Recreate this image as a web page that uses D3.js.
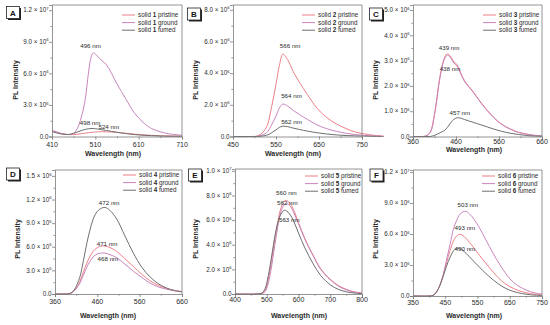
<!DOCTYPE html>
<html><head><meta charset="utf-8">
<script src="https://cdn.jsdelivr.net/npm/d3@7"></script>
<style>
body{margin:0;background:#fff}
svg{display:block}
text{font-family:"Liberation Sans",Arial,sans-serif;fill:#2a2a2a}
</style>
</head><body>
<svg id="chart" width="550" height="325"></svg>
<script>
// ---------------- DATA (intensities in units of 10^6) ----------------
const panelLetters = ["A","B","C","D","E","F"];
const solidNumbers = ["1","2","3","4","5","6"];
const stateNames = ["pristine","ground","fumed"];

// Panel A
const wavelengthA = [410,420,430,440,450,460,470,480,487,494,500,505,510,520,536,560,580,600,620,640,660,680,710];
const pristineA   = [0.55,0.42,0.30,0.22,0.18,0.18,0.22,0.28,0.32,0.36,0.39,0.41,0.43,0.45,0.45,0.39,0.31,0.23,0.16,0.11,0.07,0.05,0.03];
const groundA     = [0.60,0.45,0.30,0.20,0.20,0.30,0.90,2.20,3.60,6.00,7.50,7.95,7.85,7.40,6.80,5.00,3.60,2.25,1.35,0.75,0.45,0.25,0.12];
const fumedA      = [0.45,0.35,0.25,0.20,0.20,0.30,0.45,0.60,0.68,0.73,0.76,0.76,0.74,0.68,0.57,0.40,0.28,0.18,0.12,0.08,0.05,0.03,0.02];
const xTicksA = [410,510,610,710];
const yTicksA = [0,3,6,9,12];
const yTickLabelsA = ["0.0","3.0 × 10^6","6.0 × 10^6","9.0 × 10^6","1.2 × 10^7"];
const peakTextA = ["496 nm","498 nm","524 nm"];
const peakAtWlA = [499,498,541];
const peakAtValA = [8.6,1.25,0.86];

// Panel B
const wavelengthB = [450,490,505,515,525,531,540,550,558,566,577,590,605,623,645,667,690,713,735,756,780,800];
const pristineB   = [0,0,0.02,0.15,0.45,0.80,1.90,3.30,4.50,5.20,4.85,4.10,3.40,2.65,1.80,1.22,0.80,0.50,0.28,0.16,0.07,0.03];
const groundB     = [0,0,0.01,0.06,0.18,0.32,0.75,1.30,1.80,2.05,1.92,1.65,1.38,1.08,0.74,0.50,0.33,0.20,0.12,0.07,0.03,0.01];
const fumedB      = [0,0,0,0.02,0.06,0.10,0.24,0.42,0.58,0.65,0.62,0.53,0.44,0.34,0.24,0.16,0.10,0.06,0.04,0.02,0.01,0];
const xTicksB = [450,550,650,750];
const yTicksB = [0,2,4,6,8];
const yTickLabelsB = ["0.0","2.0 × 10^6","4.0 × 10^6","6.0 × 10^6","8.0 × 10^6"];
const peakTextB = ["566 nm","564 nm","562 nm"];
const peakAtWlB = [583,586,586];
const peakAtValB = [5.7,2.55,0.9];

// Panel C
const wavelengthC = [360,380,390,400,411,423,434,440,448,455,462,470,480,500,520,547,565,586,605,624,640,660];
const pristineC   = [0,0,0.02,0.17,1.00,2.40,3.15,3.27,3.15,2.95,2.85,2.55,2.20,1.77,1.30,0.77,0.50,0.30,0.17,0.10,0.05,0.02];
const groundC     = [0,0,0.02,0.15,0.95,2.35,3.10,3.22,3.10,2.90,2.80,2.52,2.17,1.75,1.28,0.76,0.49,0.29,0.16,0.09,0.05,0.02];
const fumedC      = [0,0,0,0,0.05,0.15,0.25,0.36,0.55,0.68,0.74,0.73,0.67,0.56,0.45,0.30,0.21,0.13,0.08,0.04,0.02,0.01];
const xTicksC = [360,460,560,660];
const yTicksC = [0,1,2,3,4,5];
const yTickLabelsC = ["0.0","1.0 × 10^6","2.0 × 10^6","3.0 × 10^6","4.0 × 10^6","5.0 × 10^6"];
const peakTextC = ["439 nm","438 nm","457 nm"];
const peakAtWlC = [444,446,469];
const peakAtValC = [3.48,2.68,0.92];

// Panel D
const wavelengthD = [360,380,395,405,412,419,427,435,442,450,460,470,478,490,506,525,545,565,584,604,624,642,660];
const pristineD   = [0,0,0.005,0.04,0.09,0.16,0.28,0.39,0.47,0.54,0.59,0.61,0.61,0.59,0.54,0.45,0.35,0.25,0.17,0.11,0.07,0.045,0.03];
const groundD     = [0,0,0.005,0.035,0.08,0.14,0.24,0.34,0.41,0.47,0.51,0.52,0.52,0.50,0.46,0.38,0.29,0.21,0.14,0.09,0.06,0.04,0.025];
const fumedD      = [0,0,0.005,0.05,0.12,0.22,0.42,0.64,0.80,0.95,1.05,1.09,1.10,1.06,0.95,0.74,0.52,0.34,0.22,0.13,0.075,0.045,0.03];
const xTicksD = [360,460,560,660];
const yTicksD = [0,0.3,0.6,0.9,1.2,1.5];
const yTickLabelsD = ["0.0","3.0 × 10^5","6.0 × 10^5","9.0 × 10^5","1.2 × 10^6","1.5 × 10^6"];
const peakTextD = ["472 nm","471 nm","468 nm"];
const peakAtWlD = [488,483,485];
const peakAtValD = [1.15,0.64,0.44];

// Panel E
const wavelengthE = [400,470,485,495,505,515,525,535,545,555,562,572,585,600,620,645,670,700,725,750,775,800];
const pristineE   = [0,0,0.05,0.30,1.20,2.70,4.40,5.90,7.00,7.55,7.60,7.40,6.80,5.80,4.50,3.20,2.05,1.20,0.70,0.38,0.18,0.08];
const groundE     = [0,0,0.03,0.20,0.90,2.20,3.90,5.50,6.70,7.25,7.35,7.20,6.60,5.70,4.45,3.15,2.00,1.15,0.65,0.34,0.16,0.07];
const fumedE      = [0,0,0.08,0.45,1.50,3.00,4.60,5.80,6.50,6.80,6.75,6.50,5.90,4.95,3.75,2.50,1.50,0.75,0.38,0.18,0.08,0.03];
const xTicksE = [400,500,600,700,800];
const yTicksE = [0,2,4,6,8,10];
const yTickLabelsE = ["0.0","2.0 × 10^6","4.0 × 10^6","6.0 × 10^6","8.0 × 10^6","1.0 × 10^7"];
const peakTextE = ["560 nm","562 nm","563 nm"];
const peakAtWlE = [562,565,571];
const peakAtValE = [8.2,7.35,6.0];

// Panel F
const wavelengthF = [350,400,412,422,433,444,454,465,475,485,495,505,514,525,540,556,575,599,625,651,675,703,725,750];
const pristineF   = [0,0,0.05,0.35,1.00,2.05,3.20,4.40,5.30,5.80,5.97,5.85,5.60,5.20,4.60,3.95,3.20,2.30,1.45,0.90,0.55,0.30,0.18,0.10];
const groundF     = [0,0,0.05,0.35,1.00,2.10,3.50,5.00,6.45,7.30,7.90,8.15,8.20,7.95,7.40,6.60,5.50,4.10,2.75,1.65,1.00,0.55,0.32,0.18];
const fumedF      = [0,0,0.05,0.35,1.00,1.95,2.90,3.75,4.35,4.62,4.60,4.40,4.15,3.80,3.30,2.80,2.20,1.55,0.95,0.55,0.32,0.16,0.09,0.05];
const xTicksF = [350,450,550,650,750];
const yTicksF = [0,3,6,9,12];
const yTickLabelsF = ["0.0","3.0 × 10^6","6.0 × 10^6","9.0 × 10^6","1.2 × 10^7"];
const peakTextF = ["503 nm","493 nm","490 nm"];
const peakAtWlF = [520,511,511];
const peakAtValF = [8.8,6.6,4.55];

// ---------------- LAYOUT & STYLE ----------------
const seriesColors = ["#ee7f88","#c985bd","#6f6f6f"];
const layout = [
  {L:52, R:182, T:5,   B:136.5, ymax:12.5,  xlab:146.5, xtitle:155.5, xtx:113, ytx:18,  yty:80,  bx:6.5,   by:6.5,   lx:122, ly:15},
  {L:233,R:362, T:5,   B:136.5, ymax:8.3,   xlab:146.5, xtitle:155.5, xtx:293, ytx:198, yty:80,  bx:187.5, by:8,     lx:302, ly:15},
  {L:413,R:542, T:5,   B:136.5, ymax:5.2,   xlab:143.5, xtitle:152,   xtx:474, ytx:378, yty:80,  bx:369.5, by:8,     lx:483, ly:15},
  {L:55, R:182, T:170, B:294,   ymax:1.575, xlab:304,   xtitle:317.5, xtx:108, ytx:20,  yty:239, bx:6.5,   by:168,   lx:123, ly:175},
  {L:235,R:362, T:169, B:294,   ymax:10.15, xlab:302,   xtitle:317.5, xtx:299, ytx:198, yty:239, bx:188.5, by:169,   lx:305, ly:176},
  {L:413,R:542, T:170, B:296,   ymax:12.2,  xlab:304.5, xtitle:317.5, xtx:474, ytx:378, yty:239, bx:370,   by:169,   lx:482, ly:176}
];

const panels = [
  {wl:wavelengthA, s:[pristineA,groundA,fumedA], xt:xTicksA, yt:yTicksA, ytl:yTickLabelsA, pk:peakTextA, pw:peakAtWlA, pv:peakAtValA},
  {wl:wavelengthB, s:[pristineB,groundB,fumedB], xt:xTicksB, yt:yTicksB, ytl:yTickLabelsB, pk:peakTextB, pw:peakAtWlB, pv:peakAtValB},
  {wl:wavelengthC, s:[pristineC,groundC,fumedC], xt:xTicksC, yt:yTicksC, ytl:yTickLabelsC, pk:peakTextC, pw:peakAtWlC, pv:peakAtValC},
  {wl:wavelengthD, s:[pristineD,groundD,fumedD], xt:xTicksD, yt:yTicksD, ytl:yTickLabelsD, pk:peakTextD, pw:peakAtWlD, pv:peakAtValD},
  {wl:wavelengthE, s:[pristineE,groundE,fumedE], xt:xTicksE, yt:yTicksE, ytl:yTickLabelsE, pk:peakTextE, pw:peakAtWlE, pv:peakAtValE},
  {wl:wavelengthF, s:[pristineF,groundF,fumedF], xt:xTicksF, yt:yTicksF, ytl:yTickLabelsF, pk:peakTextF, pw:peakAtWlF, pv:peakAtValF}
];

const svg = d3.select("#chart");
const axisColor = "#7a7a7a";

function supText(sel, str){
  const parts = str.split("^");
  sel.append("tspan").text(parts[0]);
  if (parts.length > 1) {
    sel.append("tspan").attr("dy", -2.6).attr("font-size", 4.2).text(parts[1]);
  }
}

panels.forEach((p, i) => {
  const lay = layout[i];
  const g = svg.append("g");
  const x = d3.scaleLinear().domain([p.xt[0], p.xt[p.xt.length-1]]).range([lay.L, lay.R]);
  const y = d3.scaleLinear().domain([0, lay.ymax]).range([lay.B, lay.T]);

  // curves
  const line = d3.line().x(d => x(d[0])).y(d => y(d[1])).curve(d3.curveCatmullRom.alpha(0.5));
  p.s.forEach((vals, k) => {
    g.append("path")
      .attr("d", line(p.wl.map((w, j) => [w, vals[j]])))
      .attr("fill", "none").attr("stroke", seriesColors[k]).attr("stroke-width", 1);
  });

  // axes
  const xMinor = [];
  for (let j = 0; j < p.xt.length - 1; j++) xMinor.push((p.xt[j] + p.xt[j+1]) / 2);
  const yMinor = [];
  for (let j = 0; j < p.yt.length - 1; j++) yMinor.push((p.yt[j] + p.yt[j+1]) / 2);
  yMinor.push(p.yt[p.yt.length-1] + (p.yt[1]-p.yt[0]) / 2);

  g.append("g").attr("transform", `translate(0,${lay.B})`)
    .call(d3.axisBottom(x).tickValues(p.xt).tickSize(3).tickFormat(""));
  g.append("g").attr("transform", `translate(0,${lay.B})`)
    .call(d3.axisBottom(x).tickValues(xMinor).tickSize(1.6).tickFormat(""))
    .select(".domain").remove();
  g.append("g").attr("transform", `translate(${lay.L},0)`)
    .call(d3.axisLeft(y).tickValues(p.yt).tickSize(3).tickFormat(""));
  g.append("g").attr("transform", `translate(${lay.L},0)`)
    .call(d3.axisLeft(y).tickValues(yMinor.filter(v => v <= lay.ymax)).tickSize(1.6).tickFormat(""))
    .select(".domain").remove();
  g.selectAll(".domain, .tick line").attr("stroke", axisColor).attr("stroke-width", 0.8);
  g.append("path")
    .attr("d", `M${lay.L},${lay.T}H${lay.R}V${lay.B}`)
    .attr("fill", "none").attr("stroke", axisColor).attr("stroke-width", 0.8);

  // tick labels
  g.selectAll(".xl").data(p.xt).join("text")
    .attr("x", d => x(d)).attr("y", lay.xlab)
    .attr("text-anchor", "middle").attr("font-size", 7).text(d => d);
  g.selectAll(".yl").data(p.yt).join("text")
    .attr("x", lay.L - 3.5).attr("y", d => y(d) + 2.2)
    .attr("text-anchor", "end").attr("font-size", 6.3)
    .each(function(d, j){ supText(d3.select(this), p.ytl[j]); });

  // axis titles
  g.append("text").attr("x", lay.xtx).attr("y", lay.xtitle)
    .attr("text-anchor", "middle").attr("font-size", 7).attr("font-weight", "bold")
    .text("Wavelength (nm)");
  g.append("text")
    .attr("transform", `translate(${lay.ytx},${lay.yty}) rotate(-90)`)
    .attr("text-anchor", "middle").attr("font-size", 7).attr("font-weight", "bold")
    .text("PL Intensity");

  // peak annotations
  p.pk.forEach((t, k) => {
    g.append("text").attr("x", x(p.pw[k])).attr("y", y(p.pv[k]) + 2)
      .attr("text-anchor", "middle").attr("font-size", 6.2).text(t);
  });

  // legend
  stateNames.forEach((st, k) => {
    const yy = lay.ly + k * 7.6;
    g.append("line").attr("x1", lay.lx).attr("x2", lay.lx + 13)
      .attr("y1", yy).attr("y2", yy).attr("stroke", seriesColors[k]).attr("stroke-width", 1);
    const t = g.append("text").attr("x", lay.lx + 16).attr("y", yy + 2.2).attr("font-size", 6.3);
    t.append("tspan").text("solid ");
    t.append("tspan").attr("font-weight", "bold").text(solidNumbers[i]);
    t.append("tspan").text(" " + st);
  });

  // panel letter box
  g.append("rect").attr("x", lay.bx + 1.5).attr("y", lay.by + 1.5).attr("width", 13).attr("height", 12).attr("fill", "#222");
  g.append("rect").attr("x", lay.bx).attr("y", lay.by).attr("width", 13).attr("height", 12)
    .attr("fill", "#fff").attr("stroke", "#222").attr("stroke-width", 0.8);
  g.append("text").attr("x", lay.bx + 6.5).attr("y", lay.by + 9)
    .attr("text-anchor", "middle").attr("font-size", 8).attr("font-weight", "bold").style("fill", "#111")
    .text(panelLetters[i]);
});
</script>
</body></html>
